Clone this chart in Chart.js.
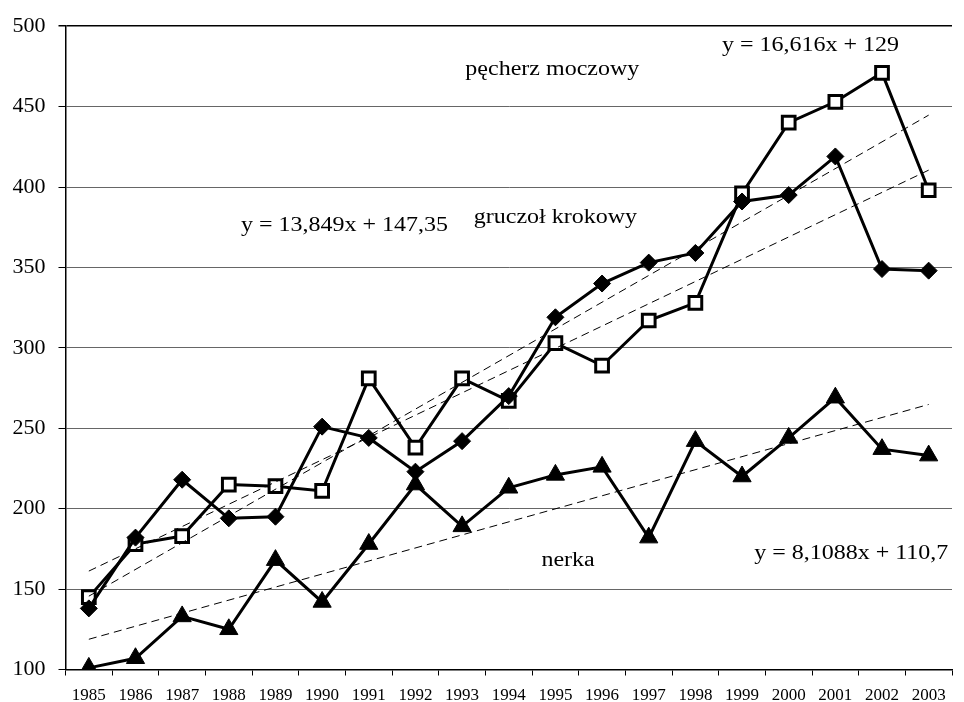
<!DOCTYPE html>
<html>
<head>
<meta charset="utf-8">
<script src="https://cdn.jsdelivr.net/npm/chart.js@4/dist/chart.umd.min.js"></script>
<style>
  html, body { margin: 0; padding: 0; background: #fff; }
  #wrap { width: 964px; height: 702px; }
</style>
</head>
<body>
<div id="wrap"><canvas id="chart"></canvas></div>
<script>
"use strict";
const years = ["1985", "1986", "1987", "1988", "1989", "1990", "1991", "1992", "1993", "1994",
  "1995", "1996", "1997", "1998", "1999", "2000", "2001", "2002", "2003"];
// gruczoł krokowy (romby)
const gruczol = [138, 182, 218, 194, 195, 251, 244, 223, 242, 270, 319, 340, 353, 359, 391, 395, 419, 349, 348];
// pęcherz moczowy (kwadraty)
const pecherz = [145, 178, 183, 215, 214, 211, 281, 238, 281, 267, 303, 289, 317, 328, 396, 440, 453, 471, 398];
// nerka (trójkąty)
const nerka = [101, 107, 133, 125, 168, 142, 178, 215, 189, 213, 221, 226, 182, 242, 220, 244, 269, 237, 233];
// końce linii trendu (1985, 2003)
const trendGruczol = [161.2, 410.5];
const trendPecherz = [145.6, 444.7];
const trendNerka = [118.8, 264.8];
const yTicks = [100, 150, 200, 250, 300, 350, 400, 450, 500];

const endsOnly = (ends) =>
  years.map((_, i) => (i === 0 ? ends[0] : i === years.length - 1 ? ends[1] : null));

// opisy na wykresie: x = indeks kategorii, y = wartość (lewy brzeg, linia bazowa)
const notes = [
  { text: "pęcherz moczowy", x: 8.07, y: 469.6 },
  { text: "gruczoł krokowy", x: 8.25, y: 377.5 },
  { text: "y = 13,849x + 147,35", x: 3.26, y: 372.4 },
  { text: "y = 16,616x + 129", x: 13.57, y: 484.3 },
  { text: "nerka", x: 9.7, y: 164.4 },
  { text: "y = 8,1088x + 110,7", x: 14.26, y: 168.9 },
];

const notesPlugin = {
  id: "notes",
  afterDatasetsDraw(chart) {
    const { ctx, scales } = chart;
    ctx.save();
    ctx.fillStyle = "#000";
    ctx.font = "20px 'Liberation Serif'";
    ctx.textAlign = "left";
    ctx.textBaseline = "alphabetic";
    notes.forEach((n) => {
      const px = scales.x.getPixelForValue(n.x);
      const py = scales.y.getPixelForValue(n.y);
      ctx.save();
      ctx.translate(px, py);
      ctx.scale(1.2, 1);
      ctx.fillText(n.text, 0, 0);
      ctx.restore();
    });
    ctx.restore();
  },
};

const lineSet = (label, data, style, fill, radius) => ({
  label,
  data,
  borderColor: "#000",
  borderWidth: 3,
  pointStyle: style,
  pointRadius: radius,
  pointBackgroundColor: fill,
  pointBorderColor: "#000",
  pointBorderWidth: style === "rect" ? 3 : 1,
  tension: 0,
});

const trendSet = (data) => ({
  data: endsOnly(data),
  borderColor: "#000",
  borderWidth: 1,
  borderDash: [8, 5],
  pointRadius: 0,
  spanGaps: true,
});

new Chart(document.getElementById("chart"), {
  type: "line",
  data: {
    labels: years,
    datasets: [
      trendSet(trendGruczol),
      trendSet(trendPecherz),
      trendSet(trendNerka),
      lineSet("nerka", nerka, "triangle", "#000", 10.5),
      lineSet("gruczoł krokowy", gruczol, "rectRot", "#000", 8.5),
      lineSet("pęcherz moczowy", pecherz, "rect", "#fff", 9),
    ],
  },
  options: {
    responsive: true,
    maintainAspectRatio: false,
    animation: false,
    layout: { padding: { top: 24, right: 0, bottom: 0, left: 0 } },
    plugins: { legend: { display: false }, tooltip: { enabled: false } },
    scales: {
      x: {
        offset: true,
        grid: { offset: true, drawOnChartArea: false, drawTicks: true, tickLength: 6, tickColor: "#000" },
        border: { color: "#000", width: 1.5 },
        ticks: { color: "#000", font: { family: "'Liberation Serif'", size: 17 }, padding: 10, maxRotation: 0 },
        afterFit: (scale) => { scale.height = 32.5; },
      },
      y: {
        min: 100,
        max: 500,
        afterBuildTicks: (scale) => { scale.ticks = yTicks.map((v) => ({ value: v })); },
        grid: {
          color: (c) => (c.tick && c.tick.value === 500 ? "#000" : "#666"),
          lineWidth: (c) => (c.tick && c.tick.value === 500 ? 1.5 : 1),
          tickLength: 7,
          tickColor: "#000",
        },
        border: { color: "#000", width: 1.5 },
        ticks: { color: "#000", font: { family: "'Liberation Serif'", size: 22 }, padding: 13 },
        afterFit: (scale) => { scale.width = 65.5; },
      },
    },
  },
  plugins: [notesPlugin],
});
</script>
</body>
</html>
